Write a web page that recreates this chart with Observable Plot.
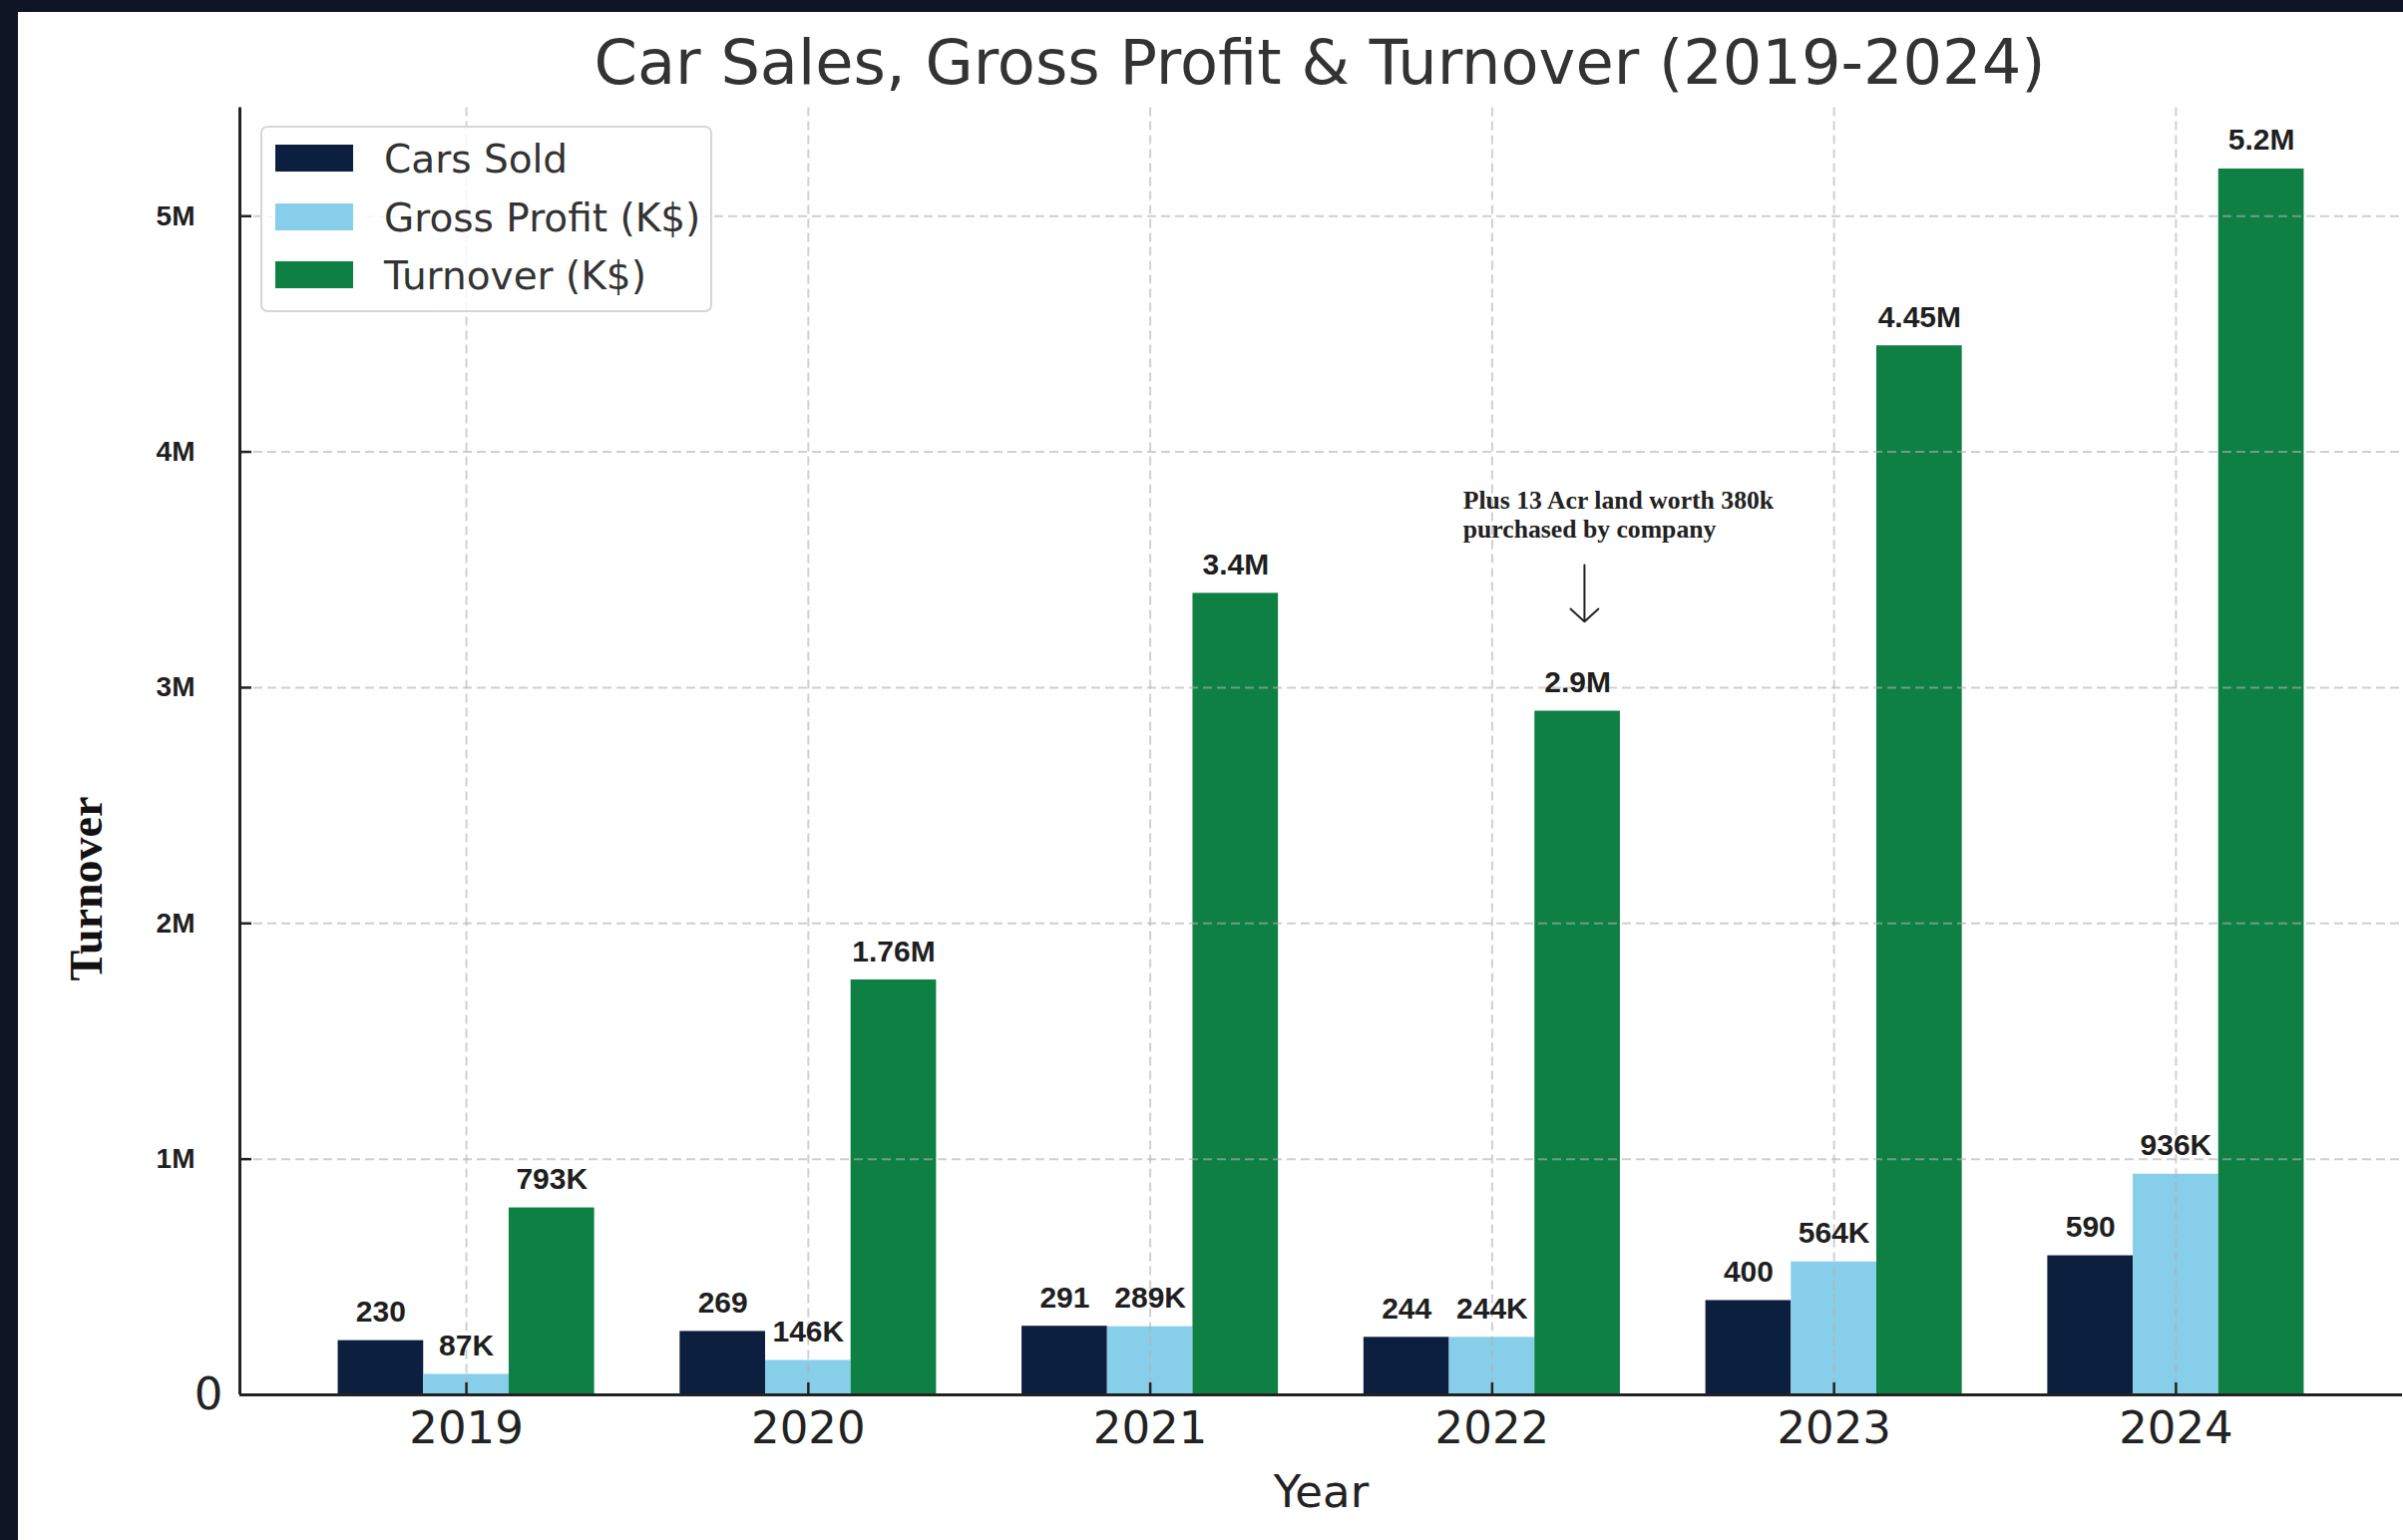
<!DOCTYPE html>
<html><head><meta charset="utf-8">
<script src="https://cdn.jsdelivr.net/npm/d3@7"></script>
<script src="https://cdn.jsdelivr.net/npm/@observablehq/plot@0.6"></script>
<style>
html,body{margin:0;padding:0;background:#0e1626;overflow:hidden;width:2409px;height:1544px}
#card{position:absolute;left:18px;top:12px;width:2391px;height:1532px;background:#fff;overflow:hidden}
#title{position:absolute;top:19px;left:1305px;transform:translateX(-50%);white-space:nowrap;font-family:"DejaVu Sans";font-size:62.2px;line-height:63px;color:#333}
#chart{position:absolute;left:0;top:84px}
#ylabel{position:absolute;left:69px;top:879px;transform:translate(-50%,-50%) rotate(-90deg);font-family:"Liberation Serif";font-weight:bold;font-size:46px;color:#111;white-space:nowrap;line-height:46px}
#legend{position:absolute;left:243px;top:114px;width:453px;height:187px;border:2px solid #d6d6d6;border-radius:7px;background:rgba(255,255,255,0.85);box-sizing:border-box}
.patch{position:absolute;left:13px;width:78px;height:27px}
.ltext{position:absolute;left:122px;font-family:"DejaVu Sans";font-size:39px;line-height:40px;color:#333;white-space:nowrap}
</style></head>
<body>
<div id="card">
  <div id="title">Car Sales, Gross Profit &amp; Turnover (2019-2024)</div>
  <div id="chart"></div>
  <div id="ylabel">Turnover</div>
  <div id="legend"></div>
</div>
<script>
// ---- data ----
const years = ["2019", "2020", "2021", "2022", "2023", "2024"];
const carsSold = [230, 269, 291, 244, 400, 590];
const grossProfitK = [87, 146, 289, 244, 564, 936];
const turnoverK = [793, 1760, 3400, 2900, 4450, 5200];
const seriesNames = ["Cars Sold", "Gross Profit (K$)", "Turnover (K$)"];
const seriesColors = ["#0c1f3e", "#87ceeb", "#0e8044"];
const yTicks = [1e6, 2e6, 3e6, 4e6, 5e6];
const yTickLabels = ["1M", "2M", "3M", "4M", "5M"];
const noteText = "Plus 13 Acr land worth 380k\npurchased by company";
const noteYear = "2022";
const noteTextPos = {dx: -0.085, y: 3.85e6};
const noteArrow = {dx: 0.27, from: 3.52e6, to: 3.28e6};

// ---- build table ----
const barWidth = 0.25;
const seriesValues = [carsSold, grossProfitK, turnoverK];
const fmtK = v => v >= 1000 ? (v / 1000) + "M" : v + "K";
const rows = [];
seriesValues.forEach((vals, s) => {
  vals.forEach((v, i) => {
    const c = i + (s - 1) * barWidth;
    rows.push({
      name: seriesNames[s], year: years[i],
      x1: c - barWidth / 2, x2: c + barWidth / 2, xc: c,
      value: v * 1000,
      label: s === 0 ? String(v) : fmtK(v)
    });
  });
});
const n = years.length;
const span = (n - 1) + 3 * barWidth;
const pad = 0.05 * span;
const xLo = -1.5 * barWidth - pad, xHi = (n - 1) + 1.5 * barWidth + pad;
const yMax = d3.max(rows, d => d.value) * 1.05;
const idx = d3.range(n);
const ni = years.indexOf(noteYear);
const note = {tx: ni + noteTextPos.dx, ty: noteTextPos.y, ax: ni + noteArrow.dx, ay1: noteArrow.from, ay2: noteArrow.to, text: noteText};

const gridStyle = {stroke: "#b0b0b0", strokeOpacity: 0.6, strokeWidth: 2, strokeDasharray: "9,5"};

const chart = Plot.plot({
  width: 2391, height: 1448,
  marginLeft: 222, marginRight: 1, marginTop: 11.5, marginBottom: 146,
  x: {domain: [xLo, xHi]},
  y: {domain: [0, yMax]},
  color: {domain: seriesNames, range: seriesColors},
  style: {background: "transparent", overflow: "visible"},
  marks: [
    Plot.rectY(rows, {x1: "x1", x2: "x2", y: "value", fill: "name"}),
    Plot.gridY(yTicks, gridStyle),
    Plot.gridX(idx, gridStyle),
    Plot.text(rows, {x: "xc", y: "value", text: "label", lineAnchor: "bottom", dy: -19,
      fontSize: 30, fontWeight: "bold", fontFamily: "Liberation Sans, Arial, sans-serif", fill: "#1f1f1f"}),
    Plot.ruleY([0], {stroke: "#222", strokeWidth: 3}),
    Plot.ruleX([xLo], {stroke: "#222", strokeWidth: 3}),
    Plot.axisY(yTicks, {tickSize: 0, tickPadding: 45, tickFormat: d => yTickLabels[yTicks.indexOf(d)],
      fontSize: 28, fontWeight: "bold", fontFamily: "Liberation Sans, Arial, sans-serif", color: "#1f1f1f", label: null}),
    Plot.axisY([0], {tickSize: 0, tickPadding: 17, tickFormat: () => "0",
      fontSize: 45, fontFamily: "DejaVu Sans", color: "#222", label: null}),
    Plot.axisY(yTicks, {tickSize: -12, strokeWidth: 2.5, color: "#222", tickFormat: () => "", label: null}),
    Plot.axisX(idx, {tickSize: 0, tickPadding: 17, tickFormat: i => years[i],
      fontSize: 45, fontFamily: "DejaVu Sans", color: "#222",
      label: "Year", labelAnchor: "center", labelOffset: 112, labelArrow: "none"}),
    Plot.axisX(idx, {tickSize: -12, strokeWidth: 2.5, color: "#222", tickFormat: () => "", label: null}),
    Plot.text([note], {x: "tx", y: "ty", text: "text", textAnchor: "start", lineAnchor: "top", lineHeight: 1.15,
      fontSize: 25.7, fontWeight: "bold", fontFamily: "Liberation Serif, serif", fill: "#222"}),
    Plot.arrow([note], {x1: "ax", x2: "ax", y1: "ay1", y2: "ay2", stroke: "#222", strokeWidth: 2, headLength: 18, headAngle: 95})
  ]
});
document.getElementById("chart").appendChild(chart);

// ---- legend (HTML, from series arrays) ----
const legend = document.getElementById("legend");
const rowCenters = [30, 89, 147];
seriesNames.forEach((name, s) => {
  const p = document.createElement("div");
  p.className = "patch";
  p.style.top = (rowCenters[s] - 13.5) + "px";
  p.style.background = seriesColors[s];
  legend.appendChild(p);
  const t = document.createElement("div");
  t.className = "ltext";
  t.style.top = (rowCenters[s] - 18.5) + "px";
  t.textContent = name;
  legend.appendChild(t);
});
</script>
</body></html>
